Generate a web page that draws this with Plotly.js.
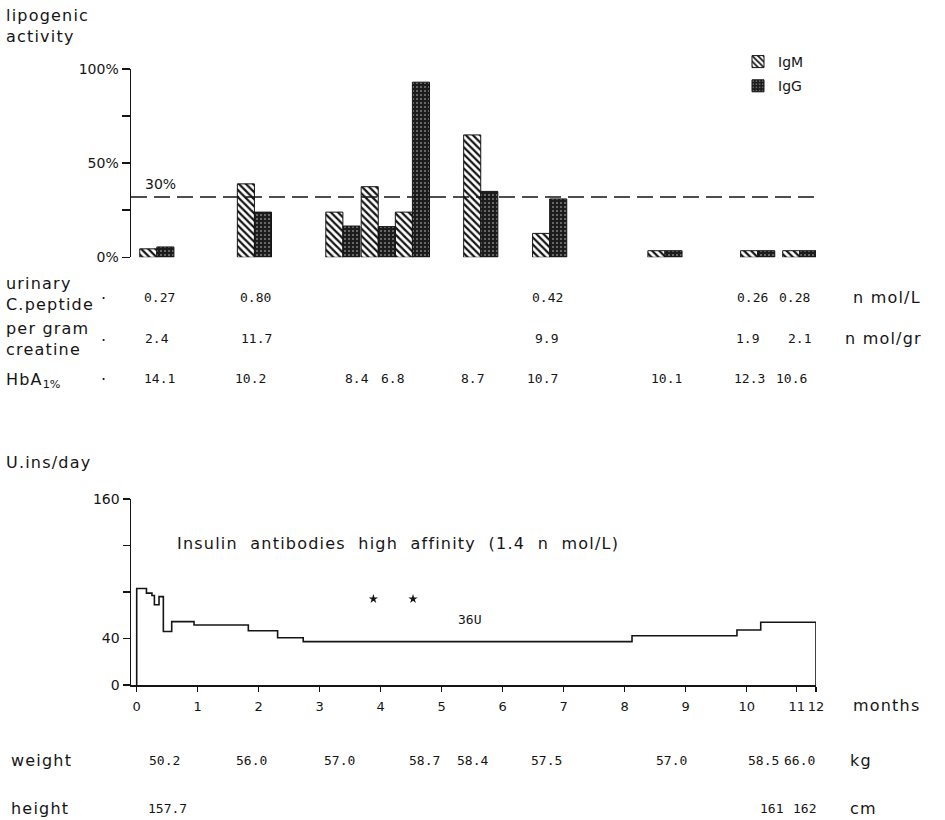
<!DOCTYPE html>
<html><head><meta charset="utf-8">
<script src="https://cdn.plot.ly/plotly-3.0.1.min.js"></script>
<style>body{margin:0;background:#fff}</style>
</head><body><div id="chart" style="width:945px;height:820px"></div>
<script>
// ---- data ----
const groupMonths = [0.33, 1.93, 3.38, 3.96, 4.52, 5.64, 6.77, 8.66, 10.18, 10.87];
const igM = [4.5, 39, 24, 37.5, 24, 65, 12.7, 3.5, 3.5, 3.5];
const igG = [5.5, 24, 16.6, 16.3, 93, 35, 31, 3.5, 3.5, 3.5];
const thresholdValue = 32;
const thresholdLabel = "30%";

const cpepMonths = [0.38, 1.94, 6.74, 10.09, 10.78];
const cpepValues = ["0.27", "0.80", "0.42", "0.26", "0.28"];
const creatMonths = [0.33, 1.97, 6.72, 10.02, 10.87];
const creatValues = ["2.4", "11.7", "9.9", "1.9", "2.1"];
const hbaMonths = [0.38, 1.86, 3.61, 4.19, 5.50, 6.66, 8.68, 10.05, 10.74];
const hbaValues = ["14.1", "10.2", "8.4", "6.8", "8.7", "10.7", "10.1", "12.3", "10.6"];

const insulinMonths = [0, 0, 0.16, 0.25, 0.29, 0.366, 0.437, 0.574, 0.94, 1.83, 2.31, 2.73, 8.12, 9.84, 10.23, 11.136, 11.136];
const insulinUnits  = [0, 83, 79, 77, 69, 76, 46, 54.5, 51.6, 46.7, 40.7, 37.3, 42.4, 47.3, 54, 54, 0];
const starMonths = [3.88, 4.53];
const starUnits = [74, 74];

const monthTickPos = [0,1,2,3,4,5,6,7,8,9,10,10.82,11.136];
const monthTickText = ["0","1","2","3","4","5","6","7","8","9","10","11","12"];

const weightMonths = [0.46, 1.89, 3.32, 4.71, 5.51, 6.71, 8.76, 10.27, 10.86];
const weightValues = ["50.2", "56.0", "57.0", "58.7", "58.4", "57.5", "57.0", "58.5", "66.0"];
const heightMonths = [0.51, 10.40, 10.94];
const heightValues = ["157.7", "161", "162"];

// ---- layout helpers ----
const W = 945, H = 820, L = 131, R = 129;
const X0 = -0.0934, X1 = 11.136;
function py(p) { return (H - p) / H; }
function pxX(p) { return (p - L) / (W - L - R); }
const ink = "#151515";
const labelFont = {family: "DejaVu Sans", size: 16, color: ink};
const numFont = {family: "DejaVu Sans Mono", size: 13, color: ink};

const annotations = [];
function textAt(text, x, y, xref, yref, font, xanchor) {
  annotations.push({text: text, x: x, y: y, xref: xref, yref: yref, showarrow: false,
    font: font, xanchor: xanchor || "center", yanchor: "middle", align: "left"});
}
function row(months, values, ypx) {
  months.forEach((m, i) => textAt(values[i], m, py(ypx), "x", "paper", numFont, "center"));
}
// spaced-out label lines (the original uses a wide typewriter face)
const sp = s => s.split("<br>").map(t => '<span style="letter-spacing:1.2px">' + t + '</span>').join("<br>");
const wide = s => s.split(" ").join("\u00a0\u00a0");

textAt(sp("lipogenic<br>activity"), pxX(4), py(26), "paper", "paper", labelFont, "left");
textAt(thresholdLabel, 0.1, thresholdValue + 7, "x", "y", {family: "DejaVu Sans", size: 14, color: ink}, "left");
textAt(sp("urinary<br>C.peptide"), pxX(4), py(294), "paper", "paper", labelFont, "left");
textAt("·", pxX(103), py(298), "paper", "paper", labelFont, "center");
textAt(sp("per gram<br>creatine"), pxX(4), py(339), "paper", "paper", labelFont, "left");
textAt("·", pxX(103), py(340), "paper", "paper", labelFont, "center");
textAt('<span style="letter-spacing:1.2px">HbA</span><sub>1%</sub>', pxX(4), py(380), "paper", "paper", labelFont, "left");
textAt("·", pxX(103), py(379), "paper", "paper", labelFont, "center");
row(cpepMonths, cpepValues, 297);
row(creatMonths, creatValues, 338);
row(hbaMonths, hbaValues, 378);
textAt(sp("n mol/L"), pxX(851), py(297), "paper", "paper", labelFont, "left");
textAt(sp("n mol/gr"), pxX(843), py(338), "paper", "paper", labelFont, "left");

textAt(sp("U.ins/day"), pxX(4), py(462), "paper", "paper", labelFont, "left");
textAt(sp(wide("Insulin antibodies high affinity (1.4 n mol/L)")), 0.63, 122, "x2", "y2", labelFont, "left");
textAt("36U", 5.46, 56, "x2", "y2", numFont, "center");
textAt(sp("months"), pxX(851), py(705), "paper", "paper", labelFont, "left");

textAt(sp("weight"), pxX(9), py(760), "paper", "paper", labelFont, "left");
row(weightMonths, weightValues, 760);
textAt(sp("kg"), pxX(848), py(760), "paper", "paper", labelFont, "left");
textAt(sp("height"), pxX(9), py(808), "paper", "paper", labelFont, "left");
row(heightMonths, heightValues, 808);
textAt(sp("cm"), pxX(848), py(808), "paper", "paper", labelFont, "left");

const traces = [
  {type: "bar", name: "IgM", x: groupMonths, y: igM, width: 0.28, offset: -0.28,
   xaxis: "x", yaxis: "y", legendgroup: "m",
   marker: {color: "#fff", line: {color: ink, width: 1},
     pattern: {shape: "\\", fgcolor: ink, bgcolor: "#fff", size: 5, solidity: 0.45}}},
  {type: "bar", name: "IgG", x: groupMonths, y: igG, width: 0.28, offset: 0,
   xaxis: "x", yaxis: "y", legendgroup: "g",
   marker: {color: "#1c1c1c", line: {color: ink, width: 1},
     pattern: {shape: ".", fgcolor: "#808080", bgcolor: "#1c1c1c", size: 4, solidity: 0.2}}},
  {type: "scatter", mode: "lines", x: insulinMonths, y: insulinUnits, xaxis: "x2", yaxis: "y2",
   line: {color: ink, width: 1.6, shape: "hv"}, showlegend: false, hoverinfo: "skip"},
  {type: "scatter", mode: "markers", x: starMonths, y: starUnits, xaxis: "x2", yaxis: "y2",
   marker: {symbol: "star", size: 7, color: ink}, showlegend: false}
];

const axisCommon = {showgrid: false, zeroline: false, showline: true, linecolor: ink, linewidth: 1.5,
  ticks: "outside", tickcolor: ink, tickwidth: 1.5, tickfont: {family: "DejaVu Sans", size: 14, color: ink}};

const layout = {
  width: W, height: H, margin: {l: L, r: R, t: 0, b: 0},
  paper_bgcolor: "#fff", plot_bgcolor: "#fff",
  barmode: "overlay", showlegend: true,
  legend: {x: pxX(738), y: py(46), xanchor: "left", yanchor: "top", tracegroupgap: 3,
    font: {family: "DejaVu Sans", size: 14, color: ink}, bgcolor: "rgba(0,0,0,0)"},
  xaxis: {domain: [0, 1], range: [X0, X1], anchor: "y", visible: false, fixedrange: true},
  yaxis: Object.assign({}, axisCommon, {domain: [py(257.3), py(69)], range: [0, 100], anchor: "x",
    tickmode: "array", tickvals: [0, 50, 100], ticktext: ["0%", "50%", "100%"], ticklen: 8,
    minor: {tickmode: "linear", tick0: 0, dtick: 25, ticks: "outside", ticklen: 8, tickwidth: 1.5, tickcolor: ink}}),
  xaxis2: Object.assign({}, axisCommon, {domain: [0, 1], range: [X0, X1], anchor: "y2",
    tickmode: "array", tickvals: monthTickPos, ticktext: monthTickText, ticklen: 5, ticklabelstandoff: 4,
    tickfont: {family: "DejaVu Sans", size: 13, color: ink}}),
  yaxis2: Object.assign({}, axisCommon, {domain: [py(685), py(499)], range: [0, 160], anchor: "x2",
    tickmode: "array", tickvals: [0, 40, 160], ticktext: ["0", "40", "160"], ticklen: 7,
    minor: {tickmode: "linear", tick0: 0, dtick: 40, ticks: "outside", ticklen: 7, tickwidth: 1.5, tickcolor: ink}}),
  shapes: [
    {type: "line", xref: "paper", yref: "y", x0: 0, x1: 1.006, y0: thresholdValue, y1: thresholdValue,
     line: {color: ink, width: 1.5, dash: "16px,7px"}}
  ],
  annotations: annotations
};

Plotly.newPlot("chart", traces, layout, {displayModeBar: false, staticPlot: true});
</script>
</body></html>
